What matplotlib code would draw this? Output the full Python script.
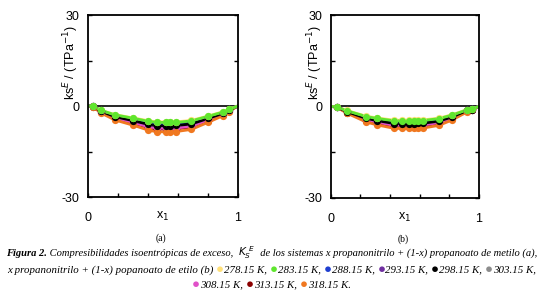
import matplotlib
matplotlib.use("Agg")
import matplotlib.pyplot as plt

# ---- data ----
temps = ["278.15 K", "283.15 K", "288.15 K", "293.15 K", "298.15 K",
         "303.15 K", "308.15 K", "313.15 K", "318.15 K"]
colors = ["#FFE07A", "#5FE62E", "#1F3FD0", "#7030A0", "#000000",
          "#8C8C8C", "#E050C8", "#8B0000", "#F07820"]

# (a) propanonitrilo + propanoato de metilo
xa = [0.035, 0.087, 0.18, 0.30, 0.40, 0.46, 0.52, 0.55, 0.59, 0.69, 0.80, 0.90, 0.94]
ya_278 = [-0.1, -1.4, -2.8, -3.9, -4.8, -5.2, -5.2, -5.2, -5.2, -4.7, -3.3, -1.9, -1.0]
ya_283 = [-0.1, -1.4, -2.9, -4.0, -5.0, -5.4, -5.4, -5.4, -5.4, -4.9, -3.4, -2.0, -1.1]
ya_288 = [-0.1, -1.5, -3.2, -4.4, -5.5, -5.9, -5.9, -5.9, -5.9, -5.4, -3.7, -2.2, -1.2]
ya_293 = [-0.1, -1.6, -3.3, -4.6, -5.8, -6.2, -6.2, -6.2, -6.1, -5.6, -3.9, -2.3, -1.2]
ya_298 = [-0.1, -1.7, -3.5, -4.8, -6.0, -6.5, -6.5, -6.5, -6.4, -5.9, -4.1, -2.4, -1.3]
ya_303 = [-0.1, -1.8, -3.7, -5.0, -6.3, -6.8, -6.8, -6.8, -6.7, -6.2, -4.3, -2.5, -1.4]
ya_308 = [-0.1, -1.9, -3.9, -5.4, -6.8, -7.3, -7.3, -7.3, -7.2, -6.7, -4.6, -2.8, -1.5]
ya_313 = [-0.2, -2.0, -4.1, -5.6, -7.1, -7.6, -7.6, -7.6, -7.5, -6.9, -4.8, -2.8, -1.5]
ya_318 = [-0.3, -2.3, -4.6, -6.3, -7.9, -8.5, -8.5, -8.5, -8.4, -7.7, -5.4, -3.2, -1.8]

# (b) propanonitrilo + propanoato de etilo
xb = [0.04, 0.11, 0.24, 0.31, 0.43, 0.48, 0.53, 0.56, 0.59, 0.62, 0.73, 0.82, 0.92, 0.95]
yb_278 = [-0.1, -1.3, -3.2, -3.7, -4.5, -4.5, -4.5, -4.5, -4.4, -4.4, -3.8, -2.7, -1.0, -0.8]
yb_283 = [-0.1, -1.4, -3.3, -3.9, -4.7, -4.7, -4.7, -4.7, -4.6, -4.6, -4.0, -2.8, -1.1, -0.8]
yb_288 = [-0.1, -1.5, -3.5, -4.2, -5.0, -5.0, -5.0, -5.0, -4.9, -4.9, -4.3, -3.0, -1.2, -0.9]
yb_293 = [-0.1, -1.6, -3.7, -4.4, -5.3, -5.3, -5.3, -5.3, -5.2, -5.2, -4.5, -3.2, -1.2, -0.9]
yb_298 = [-0.1, -1.7, -3.9, -4.6, -5.6, -5.6, -5.6, -5.6, -5.5, -5.5, -4.8, -3.4, -1.3, -1.0]
yb_303 = [-0.1, -1.8, -4.1, -4.9, -5.9, -5.9, -5.9, -5.9, -5.8, -5.8, -5.0, -3.5, -1.4, -1.0]
yb_308 = [-0.1, -1.9, -4.3, -5.1, -6.2, -6.2, -6.2, -6.2, -6.1, -6.1, -5.3, -3.7, -1.4, -1.1]
yb_313 = [-0.1, -2.0, -4.6, -5.4, -6.5, -6.5, -6.5, -6.5, -6.4, -6.4, -5.5, -3.9, -1.5, -1.1]
yb_318 = [-0.2, -2.2, -5.1, -6.0, -7.2, -7.2, -7.2, -7.2, -7.1, -7.1, -6.2, -4.4, -1.8, -1.3]

ya = [ya_278, ya_283, ya_288, ya_293, ya_298, ya_303, ya_308, ya_313, ya_318]
yb = [yb_278, yb_283, yb_288, yb_293, yb_298, yb_303, yb_308, yb_313, yb_318]

yticks = [-30, -15, 0, 15, 30]
ytick_labels = ["-30", "", "0", "", "30"]
xticks = [0, 0.2, 0.4, 0.6, 0.8, 1]
xtick_labels = ["0", "", "", "", "", "1"]

sans = "Liberation Sans"
serif = "Liberation Serif"

fig = plt.figure(figsize=(5.43, 2.95), dpi=100)
ax_a = fig.add_axes([0.162, 0.332, 0.276, 0.617])
ax_b = fig.add_axes([0.609, 0.329, 0.273, 0.620])


def draw_panel(ax, x, ys, letter, xlab_x):
    # stacking order as it looks in the original: green on top, then black/blue,
    # orange and magenta underneath
    order = [7, 5, 3, 6, 8, 2, 4, 0, 1]
    for i in order:
        xx = [0.0] + x + [1.0]
        yy = [0.0] + ys[i] + [0.0]
        ax.plot(xx, yy, color=colors[i], lw=2.0, zorder=2)
        ax.plot(x, ys[i], "o", color=colors[i], ms=5.2, mec="none", zorder=3)
    ax.axhline(0, color="black", lw=1.2, zorder=1)
    ax.set_xlim(0, 1)
    ax.set_ylim(-30, 30)
    ax.set_yticks(yticks)
    ax.set_yticklabels(ytick_labels, fontfamily=sans, fontsize=9)
    ax.set_xticks(xticks)
    ax.set_xticklabels(xtick_labels, fontfamily=sans, fontsize=9)
    ax.tick_params(direction="in", length=3, width=1, right=True, top=False,
                   pad=6)
    ax.tick_params(axis="x", pad=11)
    for s in ax.spines.values():
        s.set_linewidth(1.3)
    ax.text(0.5, -0.105, r"x$_1$", transform=ax.transAxes, ha="center",
            va="center", fontfamily=sans, fontsize=9)
    ax.text(xlab_x, 0.74, r"ks$^{E}$ / (TPa$^{-1}$)", transform=ax.transAxes,
            rotation=90, ha="center", va="center", fontfamily=sans, fontsize=9)
    ax.text(0.49, -0.225, letter, transform=ax.transAxes, ha="center",
            va="center", fontfamily=serif, fontsize=7)


draw_panel(ax_a, xa, ya, "(a)", -0.113)
draw_panel(ax_b, xb, yb, "(b)", -0.106)

# ---- caption with coloured bullets ----
fig.canvas.draw()
renderer = fig.canvas.get_renderer()
cap_size = 7.6


def caption_line(pieces, y):
    # pieces: (text, colour, weight, size); laid out left to right, centred
    artists = []
    for txt, col, wt, sz in pieces:
        t = fig.text(0, y, txt, color=col, fontweight=wt, fontstyle="italic",
                     fontfamily=serif, fontsize=sz, va="center", ha="left")
        artists.append(t)
    widths = [a.get_window_extent(renderer).width for a in artists]
    pos = (fig.bbox.width - sum(widths)) / 2
    for a, w in zip(artists, widths):
        a.set_x(pos / fig.bbox.width)
        pos += w


line1 = [("Figura 2.", "black", "bold", cap_size),
         (" Compresibilidades isoentrópicas de exceso,  ", "black", "normal", cap_size),
         (r"$K_S^{\ E}$", "black", "normal", cap_size),
         ("  de los sistemas x propanonitrilo + (1-x) propanoato de metilo (a),",
          "black", "normal", cap_size)]
line2 = [("x propanonitrilo + (1-x) popanoato de etilo (b) ", "black", "normal", 7.8)]
for i in range(6):
    line2.append(("\u25CF", colors[i], "normal", 9.5))
    line2.append((temps[i] + (", " if i < 5 else ","), "black", "normal", 7.8))
line3 = []
for i in range(6, 9):
    line3.append(("\u25CF", colors[i], "normal", 9.5))
    line3.append((temps[i] + (", " if i < 8 else "."), "black", "normal", 7.8))

caption_line(line1, 1 - 253 / 295)
caption_line(line2, 1 - 270 / 295)
caption_line(line3, 1 - 285 / 295)

fig.savefig("out.png", dpi=100)
